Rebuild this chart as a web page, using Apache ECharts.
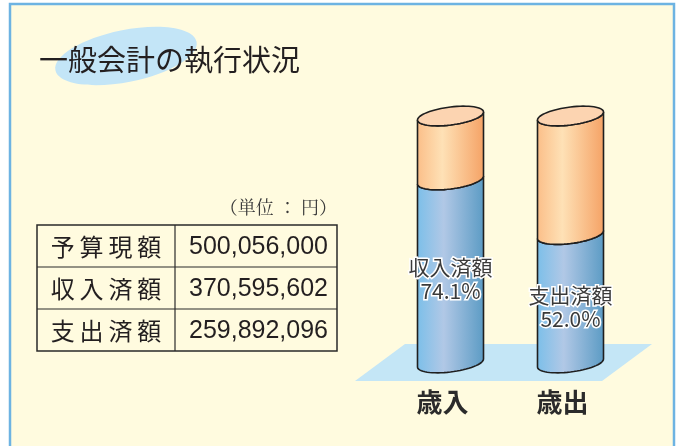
<!DOCTYPE html>
<html>
<head>
<meta charset="utf-8">
<title>一般会計の執行状況</title>
<script src="https://cdn.jsdelivr.net/npm/echarts@6/dist/echarts.min.js"></script>
<style>
  html, body { margin: 0; padding: 0; background: #ffffff; }
  #chart { width: 681px; height: 446px; }
</style>
</head>
<body>
<div id="chart"></div>
<script>
// chart data
const categories = ['歳入', '歳出']
const executedLabels = ['収入済額', '支出済額']
const executedRates = [74.1, 52.0]   // % of budget
const totalRate = 100

// table data (単位：円)
const tableLabels = ['予算現額', '収入済額', '支出済額']
const tableValues = [500056000, 370595602, 259892096]

const FONT = '"Noto Sans CJK JP", "Noto Sans", sans-serif'

// cylinder segment drawn between two values on the y axis
function renderCylinder(params, api, kind) {
  const idx = api.value(0)
  const from = api.value(1)
  const to = api.value(2)
  const bottom = api.coord([idx, from])
  const top = api.coord([idx, to])
  const cx = bottom[0]
  const rx = api.size([1, 0])[0] * 0.55 / 2
  const ry = 9
  const tilt = 4 / 33
  const steps = 32

  const pt = (cy, t) => [cx + rx * Math.cos(t), cy - tilt * rx * Math.cos(t) + ry * Math.sin(t)]

  const body = []
  for (let s = 0; s <= steps; s++) body.push(pt(top[1], Math.PI - Math.PI * s / steps))
  for (let s = 0; s <= steps; s++) body.push(pt(bottom[1], Math.PI * s / steps))

  const colors = kind === 'blue'
    ? [[0, '#7bbfe9'], [0.4, '#b1c8e6'], [1, '#5b9bc4']]
    : [[0, '#fbbe88'], [0.38, '#fee1b6'], [1, '#f5a265']]

  const children = [{
    type: 'polygon',
    shape: { points: body },
    style: {
      fill: new echarts.graphic.LinearGradient(0, 0, 1, 0,
        colors.map(c => ({ offset: c[0], color: c[1] }))),
      stroke: '#1f1f1f',
      lineWidth: 1.6
    }
  }]

  if (kind === 'orange') {
    const cap = []
    for (let s = 0; s < steps * 2; s++) cap.push(pt(top[1], Math.PI * s / steps))
    children.push({
      type: 'polygon',
      shape: { points: cap },
      style: { fill: '#fcd4b1', stroke: '#1f1f1f', lineWidth: 1.6 }
    })
  }

  if (kind === 'blue') {
    children.push({
      type: 'text',
      x: cx,
      y: (top[1] + bottom[1]) / 2 + 8,
      style: {
        text: executedLabels[idx] + '\n' + executedRates[idx].toFixed(1) + '%',
        fill: '#3a3a3a',
        stroke: '#ffffff',
        lineWidth: 3,
        fontSize: 21,
        lineHeight: 24,
        fontFamily: FONT,
        align: 'center',
        verticalAlign: 'middle'
      }
    })
  }

  return { type: 'group', children }
}

// table (left side) as graphic elements
function buildTable() {
  const left = 37, top = 225, width = 300, rowH = 42, splitX = 175
  const els = [{
    type: 'rect',
    shape: { x: left, y: top, width, height: rowH * tableLabels.length },
    style: { fill: 'none', stroke: '#2a2a2a', lineWidth: 1.5 }
  }, {
    type: 'line',
    shape: { x1: splitX, y1: top, x2: splitX, y2: top + rowH * tableLabels.length },
    style: { stroke: '#2a2a2a', lineWidth: 1.2 }
  }]
  tableLabels.forEach((label, i) => {
    const cy = top + rowH * i + rowH / 2
    if (i > 0) {
      els.push({
        type: 'line',
        shape: { x1: left, y1: top + rowH * i, x2: left + width, y2: top + rowH * i },
        style: { stroke: '#2a2a2a', lineWidth: 1.2 }
      })
    }
    els.push({
      type: 'text', x: 106, y: cy + 1,
      style: {
        text: label.split('').join('\u2009'), fill: '#231f20', fontSize: 24, fontFamily: FONT,
        align: 'center', verticalAlign: 'middle'
      }
    })
    els.push({
      type: 'text', x: 328, y: cy + 1,
      style: {
        text: tableValues[i].toLocaleString('en-US'), fill: '#231f20', fontSize: 25,
        fontFamily: '"Liberation Sans", Arial, sans-serif',
        align: 'right', verticalAlign: 'middle'
      }
    })
  })
  els.push({
    type: 'text', x: 337, y: 207,
    style: {
      text: '（単位 ： 円）', fill: '#3a3a3a', fontSize: 18,
      fontFamily: '"Noto Serif CJK JP", "Noto Sans CJK JP", serif',
      align: 'right', verticalAlign: 'middle'
    }
  })
  return els
}

const chart = echarts.init(document.getElementById('chart'))

chart.setOption({
  animation: false,
  backgroundColor: '#ffffff',
  graphic: [
    {
      type: 'rect', z: -10,
      shape: { x: 10, y: 4, width: 664, height: 460 },
      style: { fill: '#fffbdf', stroke: '#6db3e2', lineWidth: 2.5 }
    },
    {
      type: 'ellipse', z: -9, x: 126, y: 56, rotation: 0.2,
      shape: { cx: 0, cy: 0, rx: 72, ry: 26 },
      style: { fill: '#c3e5f7' }
    },
    {
      type: 'text', z: -8, x: 39, y: 60,
      style: {
        text: '一般会計の執行状況', fill: '#231f20', fontSize: 29,
        fontFamily: FONT, verticalAlign: 'middle'
      }
    },
    {
      type: 'polygon', z: -9,
      shape: { points: [[405, 344], [652, 344], [602, 381], [355, 381]] },
      style: { fill: '#c4e6f6' }
    },
    ...buildTable()
  ],
  grid: { left: 390.5, right: 50.5, top: 116, bottom: 83 },
  xAxis: {
    type: 'category',
    data: categories,
    axisLine: { show: false },
    axisTick: { show: false },
    axisLabel: {
      margin: 26,
      fontSize: 26,
      fontWeight: 'bold',
      color: '#2b2b2b',
      fontFamily: FONT,
      padding: [0, 16, 0, 0]
    }
  },
  yAxis: {
    type: 'value',
    min: 0,
    max: totalRate,
    show: false
  },
  series: [
    {
      name: '済額',
      type: 'custom',
      renderItem: (p, api) => renderCylinder(p, api, 'blue'),
      data: categories.map((c, i) => [i, 0, executedRates[i]])
    },
    {
      name: '残額',
      type: 'custom',
      renderItem: (p, api) => renderCylinder(p, api, 'orange'),
      data: categories.map((c, i) => [i, executedRates[i], totalRate])
    }
  ]
})

window.addEventListener('resize', () => chart.resize())
</script>
</body>
</html>
